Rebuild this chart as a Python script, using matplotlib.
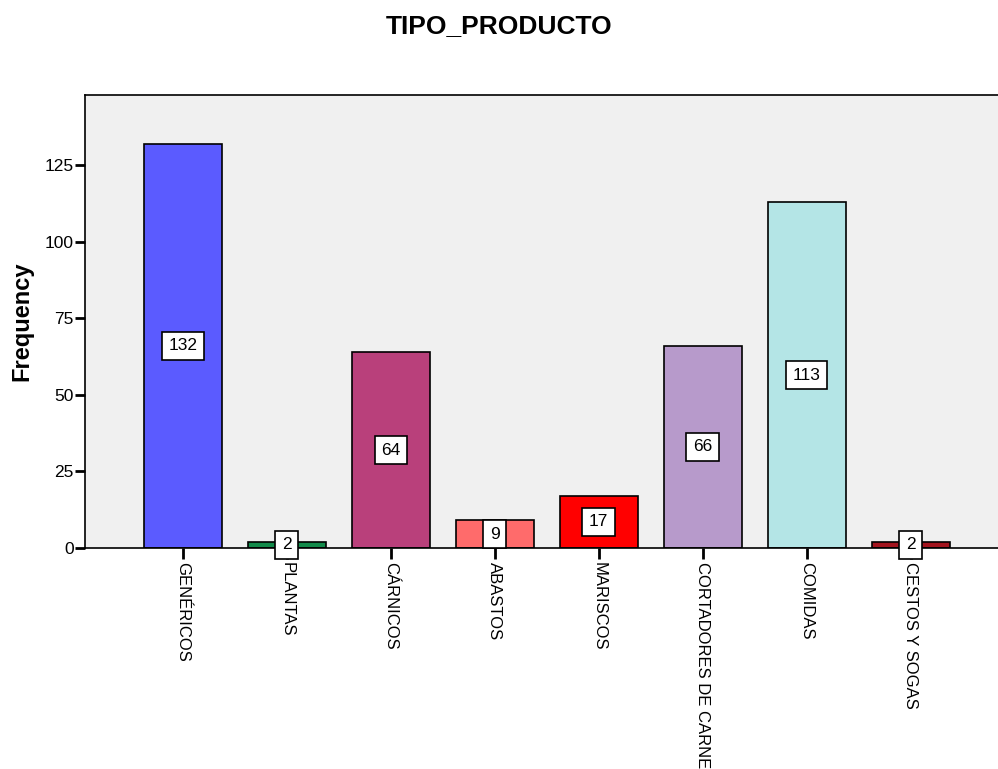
import matplotlib.pyplot as plt
import numpy as np

plt.rcParams['font.family'] = ['Liberation Sans', 'DejaVu Sans']

# Data
categorias = ['GENÉRICOS', 'PLANTAS', 'CÁRNICOS', 'ABASTOS', 'MARISCOS',
              'CORTADORES DE CARNE', 'COMIDAS', 'CESTOS Y SOGAS']
frecuencias = [132, 2, 64, 9, 17, 66, 113, 2]
colores = ['#5B5BFF', '#128A4A', '#B9407B', '#FF6B6B', '#FF0000',
           '#B79ACB', '#B4E5E6', '#A3141E']

fig = plt.figure(figsize=(9.98, 7.69), dpi=100)
ax = fig.add_axes([0.0852, 0.2874, 0.9148, 0.5891])
ax.set_facecolor('#F0F0F0')

x = np.arange(len(categorias))
ax.bar(x, frecuencias, width=0.75, color=colores, edgecolor='black', linewidth=1.2, zorder=2)

# value boxes in the middle of each bar
for xi, v in zip(x, frecuencias):
    ax.text(xi, v / 2, str(v), ha='center', va='center', fontsize=12.5, zorder=4,
            bbox=dict(boxstyle='square,pad=0.38', facecolor='white', edgecolor='black', linewidth=1.2))

ax.set_xlim(-0.94, 7.84)
ax.set_ylim(0, 148)
ax.set_yticks([0, 25, 50, 75, 100, 125])
ax.set_xticks(x)
ax.set_xticklabels(categorias, rotation=-90, fontsize=12, va='top', ha='center')
ax.tick_params(axis='y', labelsize=12.5, length=7, width=2, pad=1)
ax.tick_params(axis='x', length=8, width=2, pad=2)

for s in ['left', 'top', 'bottom']:
    ax.spines[s].set_linewidth(1.2)
ax.spines['right'].set_visible(False)

ax.set_ylabel('Frequency', fontsize=17, fontweight='bold', labelpad=8)
fig.suptitle('TIPO_PRODUCTO', fontsize=19, fontweight='bold', y=0.982)

fig.savefig('out.png', dpi=100)
